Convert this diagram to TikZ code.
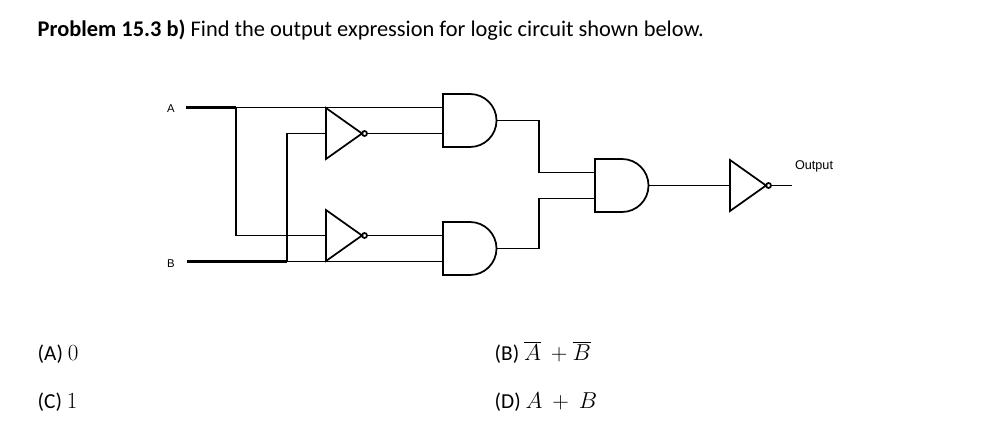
\documentclass[tikz,border=0pt]{standalone}
\usepackage{fontspec}
\setmainfont{Carlito}
\setsansfont{Liberation Sans}
\usetikzlibrary{positioning}

% AND gate: #1 name, #2 left x, #3 top y
\newcommand\andgate[3]{
  \draw[gate] (#2,#3) -- ++(27,0) arc[start angle=-90,end angle=90,radius=26.5] -- ++(-27,0) -- cycle;
  \coordinate (#1-in1) at (#2,#3+13.5);
  \coordinate (#1-in2) at (#2,#3+39.5);
  \coordinate (#1-out) at (#2+53.5,#3+26.5);
}
% inverter: #1 name, #2 left x, #3 top y
\newcommand\notgate[3]{
  \draw[gate] (#2,#3) -- (#2+36,#3+25.5) -- (#2,#3+51) -- cycle;
  \draw[gate] (#2+38.5,#3+25.5) circle (2.5);
  \coordinate (#1-in) at (#2,#3+25.5);
  \coordinate (#1-out) at (#2+41,#3+25.5);
}

\begin{document}
\begin{tikzpicture}[x=0.75pt,y=-0.75pt,
  gate/.style={line width=1.3pt},
  wire/.style={line width=1.2pt},
  bus/.style={line width=2.8pt}]

	\useasboundingbox (0,0) rectangle (987,428);

	%title
	\node[anchor=base west,font=\fontsize{16.8}{19}\selectfont] (title) at (33,37)
	  {\textbf{Problem 15.3 b)} Find the output expression for logic circuit shown below.};

	%gates
	\notgate{n1}{326}{108}
	\notgate{n2}{326}{210}
	\andgate{g1}{443}{94}
	\andgate{g2}{443}{222}
	\andgate{g3}{595}{159}
	\notgate{n3}{730}{160}

	%inputs
	\coordinate (a) at (186,107.5);
	\coordinate (b) at (187,261.5);
	\coordinate (ja) at (236,107.5);
	\coordinate (jb) at (287,261.5);
	\coordinate (out) at (792,185.5);
	\node[font=\sffamily\fontsize{8.5}{9}\selectfont] (la) at (171,109) {A};
	\node[font=\sffamily\fontsize{8.5}{9}\selectfont] (lb) at (171,264) {B};
	\node[font=\sffamily\fontsize{9.5}{10}\selectfont] (lo) at (814,166) {Output};

	%wires
	\draw[bus] (a) -- (ja);
	\draw[bus] (b) -- (jb);
	\draw[wire] (ja) -- (g1-in1);
	\draw[wire] (ja) |- (n2-in);
	\draw[wire] (jb) |- (n1-in);
	\draw[wire] (jb) -- (g2-in2);
	\draw[wire] (n1-out) -- (g1-in2);
	\draw[wire] (n2-out) -- (g2-in1);
	\draw[wire] (g1-out) -| (539,172.5) -- (g3-in1);
	\draw[wire] (g2-out) -| (539,198.5) -- (g3-in2);
	\draw[wire] (g3-out) -- (n3-in);
	\draw[wire] (n3-out) -- (out);

	%answers
	\node[anchor=base west,font=\fontsize{16}{18}\selectfont] (ansa) at (33,360) {(A) $0$};
	\node[anchor=base west,font=\fontsize{16}{18}\selectfont] (ansc) at (33,408) {(C) $1$};
	\node[anchor=base west,font=\fontsize{16}{18}\selectfont] (ansb) at (490,360) {(B) $\overline{A}\ +\overline{B}$};
	\node[anchor=base west,font=\fontsize{16}{18}\selectfont] (ansd) at (490,408) {(D) $A\ +\ B$};

\end{tikzpicture}
\end{document}
